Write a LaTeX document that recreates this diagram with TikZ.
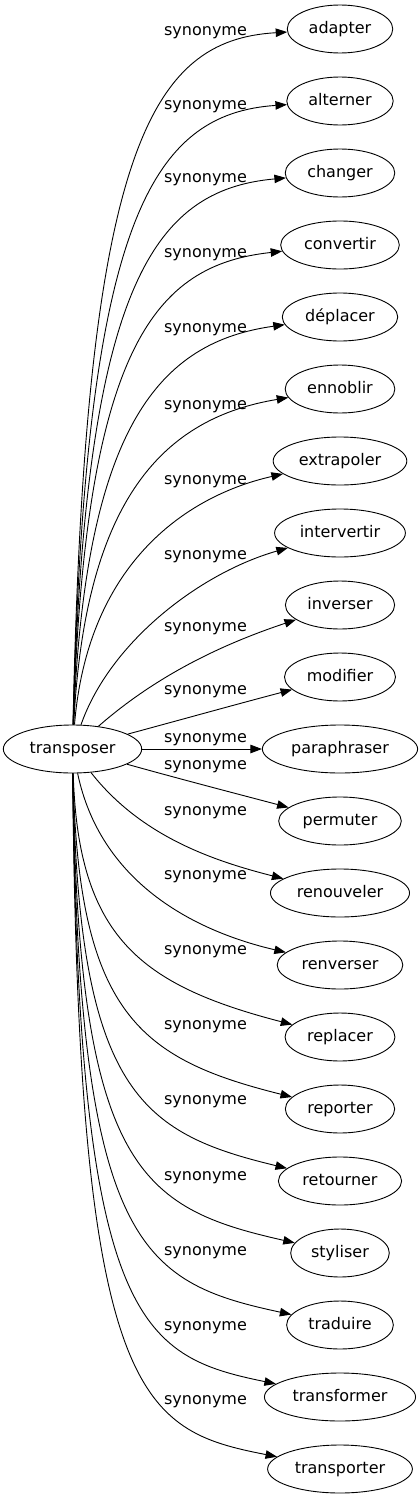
\documentclass[tikz,border=0pt]{standalone}
\usepackage{fontspec}
\setmainfont{DejaVu Sans}
\usetikzlibrary{arrows.meta}
\usetikzlibrary{shapes.geometric}

\begin{document}
\begin{tikzpicture}[x=1pt,y=-1pt,
    word/.style={draw,ellipse,line width=0.9pt,inner xsep=6pt,inner ysep=2pt,minimum height=48pt,
      text height=12pt,text depth=3.5pt,font=\fontsize{16}{19}\selectfont},
    rel/.style={inner sep=0pt,text height=12pt,text depth=3.5pt,font=\fontsize{16}{19}\selectfont},
    syn/.style={line width=0.9pt,-{Triangle[length=11.5pt,width=8.5pt]}}]
            \useasboundingbox (0,0) rectangle (420,1499);

            % the source word
            \node[word] (transposer) at (72.5,749) {transposer};

            % the synonyms
            \node[word] (adapter) at (340,29) {adapter};
            \node[word] (alterner) at (340,101) {alterner};
            \node[word] (changer) at (340,173) {changer};
            \node[word] (convertir) at (340,245) {convertir};
            \node[word] (deplacer) at (340,317) {déplacer};
            \node[word] (ennoblir) at (340,389) {ennoblir};
            \node[word] (extrapoler) at (340,461) {extrapoler};
            \node[word] (intervertir) at (340,533) {intervertir};
            \node[word] (inverser) at (340,605) {inverser};
            \node[word] (modifier) at (340,677) {modifier};
            \node[word] (paraphraser) at (340,749) {paraphraser};
            \node[word] (permuter) at (340,821) {permuter};
            \node[word] (renouveler) at (340,893) {renouveler};
            \node[word] (renverser) at (340,965) {renverser};
            \node[word] (replacer) at (340,1037) {replacer};
            \node[word] (reporter) at (340,1109) {reporter};
            \node[word] (retourner) at (340,1181) {retourner};
            \node[word] (styliser) at (340,1253) {styliser};
            \node[word] (traduire) at (340,1325) {traduire};
            \node[word] (transformer) at (340,1397) {transformer};
            \node[word] (transporter) at (340,1469) {transporter};

            % edge labels
            \node[rel] (syn1) at (205.5,31) {synonyme};
            \node[rel] (syn2) at (205.5,105) {synonyme};
            \node[rel] (syn3) at (205.5,178) {synonyme};
            \node[rel] (syn4) at (205.5,253) {synonyme};
            \node[rel] (syn5) at (205.5,328) {synonyme};
            \node[rel] (syn6) at (205.5,405) {synonyme};
            \node[rel] (syn7) at (205.5,480) {synonyme};
            \node[rel] (syn8) at (205.5,555) {synonyme};
            \node[rel] (syn9) at (205.5,627) {synonyme};
            \node[rel] (syn10) at (205.5,690) {synonyme};
            \node[rel] (syn11) at (205.5,738) {synonyme};
            \node[rel] (syn12) at (205.5,765) {synonyme};
            \node[rel] (syn13) at (205.5,811) {synonyme};
            \node[rel] (syn14) at (205.5,875) {synonyme};
            \node[rel] (syn15) at (205.5,950) {synonyme};
            \node[rel] (syn16) at (205.5,1025) {synonyme};
            \node[rel] (syn17) at (205.5,1100) {synonyme};
            \node[rel] (syn18) at (205.5,1176) {synonyme};
            \node[rel] (syn19) at (205.5,1251) {synonyme};
            \node[rel] (syn20) at (205.5,1326) {synonyme};
            \node[rel] (syn21) at (205.5,1400) {synonyme};

            % edges
            \draw[syn] (transposer) .. controls (85,150) and (150,40) .. (adapter);
            \draw[syn] (transposer) .. controls (85,224) and (150,114) .. (alterner);
            \draw[syn] (transposer) .. controls (85,288) and (152,190) .. (changer);
            \draw[syn] (transposer) .. controls (85,346) and (155,265) .. (convertir);
            \draw[syn] (transposer) .. controls (85,425) and (160,342) .. (deplacer);
            \draw[syn] (transposer) .. controls (85,497) and (165,418) .. (ennoblir);
            \draw[syn] (transposer) .. controls (88,560) and (190,495) .. (extrapoler);
            \draw[syn] (transposer) .. controls (110,642) and (200,573) .. (intervertir);
            \draw[syn] (transposer) .. controls (157,675) and (223,644) .. (inverser);
            \draw[syn] (transposer) .. controls (180,720) and (230,706) .. (modifier);
            \draw[syn] (transposer) -- (paraphraser);
            \draw[syn] (transposer) .. controls (180,779) and (230,792) .. (permuter);
            \draw[syn] (transposer) .. controls (140,835) and (210,860) .. (renouveler);
            \draw[syn] (transposer) .. controls (100,880) and (190,930) .. (renverser);
            \draw[syn] (transposer) .. controls (78,937) and (140,985) .. (replacer);
            \draw[syn] (transposer) .. controls (78,1014) and (140,1059) .. (reporter);
            \draw[syn] (transposer) .. controls (78,1091) and (140,1133) .. (retourner);
            \draw[syn] (transposer) .. controls (78,1169) and (140,1208) .. (styliser);
            \draw[syn] (transposer) .. controls (78,1246) and (140,1282) .. (traduire);
            \draw[syn] (transposer) .. controls (78,1323) and (140,1356) .. (transformer);
            \draw[syn] (transposer) .. controls (78,1400) and (140,1430) .. (transporter);
\end{tikzpicture}
\end{document}
